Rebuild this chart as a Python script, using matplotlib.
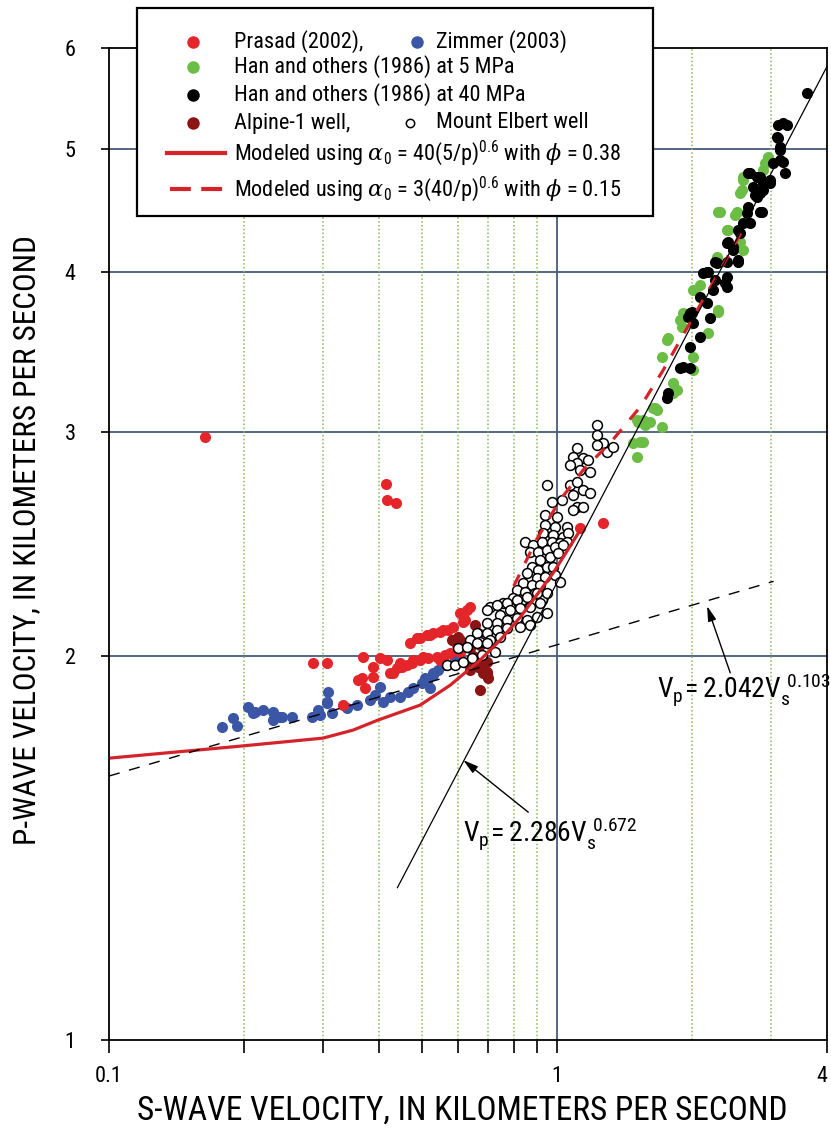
import numpy as np
import matplotlib
matplotlib.use("Agg")
import matplotlib.pyplot as plt
from matplotlib import font_manager
from matplotlib.lines import Line2D
from matplotlib.patches import Rectangle
from matplotlib.ticker import FixedLocator, FixedFormatter, NullFormatter, NullLocator


def pick_narrow_font():
    fonts = font_manager.fontManager.ttflist
    names = {f.name for f in fonts}
    for fam in ['Liberation Sans Narrow', 'Roboto Condensed', 'DejaVu Sans Condensed',
                'Open Sans Condensed']:
        if fam in names:
            return fam, 'normal'
    for fam in ['Roboto', 'DejaVu Sans', 'Open Sans']:
        if any(f.name == fam and f.stretch in ('condensed', 'semi-condensed', 75, 87)
               for f in fonts):
            return fam, 'condensed'
    return 'Liberation Sans', 'normal'


FONT, STRETCH = pick_narrow_font()
plt.rcParams['font.family'] = [FONT, 'DejaVu Sans']
plt.rcParams['font.stretch'] = STRETCH
plt.rcParams['mathtext.fontset'] = 'custom'
_pat = FONT + (':condensed' if STRETCH == 'condensed' else '')
plt.rcParams['mathtext.rm'] = _pat
plt.rcParams['mathtext.it'] = 'DejaVu Serif:italic'
plt.rcParams['mathtext.bf'] = _pat + ':bold'

# ---------------------------------------------------------------- data (km/s)
prasad_vs = [0.164, 0.415, 0.417, 0.437, 0.285, 0.307, 0.369, 0.403, 0.388, 0.367,
             0.373, 0.359, 0.388, 0.333, 0.424, 0.431, 0.440, 0.451, 0.463, 0.475,
             0.477, 0.495, 0.515, 0.540, 0.562, 0.470, 0.487, 0.495, 0.513, 0.521,
             0.529, 0.548, 0.557, 0.571, 0.607, 0.630, 0.617, 0.586, 0.639, 0.623,
             0.586, 0.598, 0.417, 0.446, 0.502, 0.577, 0.607, 0.548, 1.126, 1.267]
prasad_vp = [2.97, 2.73, 2.65, 2.64, 1.975, 1.975, 1.997, 1.993, 1.961, 1.924,
             1.888, 1.917, 1.927, 1.831, 1.941, 1.941, 1.958, 1.961, 1.968, 1.975,
             1.986, 1.986, 1.993, 1.997, 2.004, 2.048, 2.067, 2.067, 2.078, 2.078,
             2.085, 2.089, 2.097, 2.097, 2.162, 2.175, 2.127, 2.059, 2.186, 2.135,
             2.108, 2.041, 1.986, 1.975, 1.997, 2.012, 2.015, 1.986, 2.521, 2.544]

zimmer_vs = [0.179, 0.189, 0.193, 0.204, 0.210, 0.212, 0.221, 0.232, 0.232, 0.241,
             0.243, 0.256, 0.284, 0.293, 0.296, 0.307, 0.307, 0.308, 0.315, 0.340,
             0.358, 0.383, 0.393, 0.403, 0.409, 0.424, 0.447, 0.465, 0.477, 0.500,
             0.507, 0.513, 0.520, 0.529, 0.529, 0.542, 0.562, 0.592]
zimmer_vp = [1.761, 1.789, 1.764, 1.825, 1.805, 1.808, 1.815, 1.808, 1.782, 1.792,
             1.792, 1.792, 1.792, 1.815, 1.799, 1.838, 1.841, 1.875, 1.805, 1.821,
             1.831, 1.848, 1.865, 1.892, 1.841, 1.858, 1.858, 1.875, 1.888, 1.905,
             1.922, 1.909, 1.890, 1.933, 1.940, 1.951, 1.968, 1.986]

han5_vs = [1.478, 1.509, 1.532, 1.556, 1.509, 1.516, 1.556, 1.572, 1.613, 1.716,
           1.638, 1.655, 1.672, 1.815, 1.853, 1.815, 1.716, 1.760, 1.769, 1.882,
           1.901, 2.012, 2.012, 2.288, 2.173, 2.012, 2.032, 2.085, 2.162, 1.911,
           2.288, 2.276, 2.601, 2.562, 2.396, 2.408, 2.288, 2.312, 2.496, 2.522,
           2.562, 2.588, 2.601, 2.601, 2.884, 2.913, 2.958, 2.958]
han5_vp = [2.939, 2.866, 2.944, 2.944, 3.064, 3.053, 3.064, 3.037, 3.053, 3.026,
           3.131, 3.131, 3.120, 3.275, 3.234, 3.217, 3.433, 3.540, 3.552, 3.670,
           3.624, 3.433, 3.353, 3.737, 3.585, 3.874, 3.874, 3.910, 3.784, 3.717,
           3.724, 4.113, 4.165, 4.226, 4.318, 4.318, 4.460, 4.460, 4.436, 4.460,
           4.616, 4.642, 4.726, 4.752, 4.812, 4.873, 4.927, 4.918]

han40_vs = [1.760, 1.769, 1.882, 1.911, 1.981, 1.981, 2.085, 1.960, 2.001, 1.981,
            2.012, 2.085, 2.196, 2.162, 2.230, 2.118, 2.162, 2.173, 2.253, 2.276,
            2.253, 2.371, 2.396, 2.396, 2.396, 2.396, 2.408, 2.471, 2.471, 2.535,
            2.535, 2.562, 2.535, 2.601, 2.697, 2.669, 2.655, 2.869, 2.839, 2.796,
            2.767, 2.839, 2.884, 2.739, 2.884, 2.989, 2.989, 2.697, 2.669, 2.796,
            2.839, 3.228, 3.035, 3.195, 3.146, 3.146, 3.146, 3.114, 3.097, 3.114,
            3.262, 3.195, 3.614]
han40_vp = [3.188, 3.217, 3.365, 3.371, 3.365, 3.495, 3.559, 3.690, 3.724, 3.717,
            3.651, 3.825, 3.684, 3.784, 3.874, 3.995, 4.003, 4.003, 4.075, 4.068,
            3.946, 3.924, 3.967, 3.896, 4.075, 4.218, 4.226, 4.165, 4.188, 4.075,
            4.091, 4.295, 4.318, 4.373, 4.373, 4.501, 4.452, 4.460, 4.460, 4.583,
            4.599, 4.616, 4.642, 4.666, 4.700, 4.700, 4.726, 4.786, 4.786, 4.752,
            4.752, 4.786, 4.873, 4.882, 4.900, 4.989, 5.017, 5.100, 5.109, 5.221,
            5.221, 5.240, 5.530]

alpine_vs = [0.656, 0.666, 0.673, 0.698, 0.684, 0.701, 0.673, 0.639, 0.649, 0.698,
             0.601, 0.583, 0.639, 0.673, 0.698, 0.684, 0.630, 0.666, 0.607, 0.649]
alpine_vp = [2.116, 2.085, 2.041, 1.980, 1.941, 1.924, 1.882, 1.951, 1.975, 1.944,
             2.070, 2.059, 2.030, 1.961, 1.933, 1.986, 1.975, 1.961, 2.059, 2.000]

elbert_vs = [1.228, 1.228, 1.267, 1.293, 1.228, 1.334, 1.108, 1.086, 1.143, 1.173,
             1.108, 1.069, 1.126, 1.185, 0.950, 1.069, 1.108, 1.143, 1.086, 1.185,
             0.975, 1.026, 1.108, 1.143, 1.086, 0.940, 1.000, 0.940, 0.990, 1.053,
             0.930, 0.980, 1.031, 1.058, 0.848, 0.884, 0.926, 0.975, 1.016, 1.053,
             0.870, 0.907, 0.950, 0.990, 1.031, 0.916, 0.965, 1.005, 0.880, 0.907,
             0.950, 0.980, 0.857, 0.902, 0.940, 0.990, 0.839, 0.880, 0.916, 1.016,
             0.814, 0.848, 0.893, 0.798, 0.835, 0.880, 0.926, 0.758, 0.709, 0.785,
             0.698, 0.735, 0.773, 0.814, 0.857, 0.902, 0.950, 0.746, 0.785, 0.827,
             0.870, 0.916, 0.950, 0.698, 0.735, 0.773, 0.814, 0.857, 0.902, 0.663,
             0.698, 0.735, 0.773, 0.827, 0.870, 0.639, 0.673, 0.709, 0.746, 0.601,
             0.630, 0.663, 0.698, 0.568, 0.592, 0.617, 0.646, 0.680, 0.727]
elbert_vp = [3.037, 2.982, 2.939, 2.892, 2.929, 2.918, 2.913, 2.866, 2.861, 2.850,
             2.835, 2.825, 2.800, 2.790, 2.725, 2.725, 2.740, 2.701, 2.676, 2.686,
             2.642, 2.652, 2.618, 2.618, 2.604, 2.581, 2.572, 2.535, 2.526, 2.526,
             2.498, 2.489, 2.480, 2.498, 2.458, 2.445, 2.458, 2.458, 2.454, 2.458,
             2.414, 2.414, 2.423, 2.436, 2.445, 2.380, 2.393, 2.410, 2.350, 2.337,
             2.350, 2.350, 2.325, 2.303, 2.307, 2.316, 2.282, 2.275, 2.275, 2.286,
             2.254, 2.246, 2.242, 2.222, 2.214, 2.206, 2.214, 2.202, 2.186, 2.186,
             2.175, 2.194, 2.202, 2.214, 2.226, 2.242, 2.242, 2.154, 2.175, 2.182,
             2.186, 2.202, 2.162, 2.124, 2.124, 2.135, 2.143, 2.135, 2.146, 2.085,
             2.085, 2.097, 2.104, 2.108, 2.116, 2.059, 2.052, 2.059, 2.070, 2.030,
             2.033, 2.048, 2.048, 1.968, 1.968, 1.980, 1.993, 2.004, 2.015]

# modeled velocities
model38_vs = [0.1005, 0.199, 0.300, 0.350, 0.398, 0.4945, 0.577, 0.673, 0.746, 0.827, 0.980, 1.126]
model38_vp = [1.664, 1.701, 1.725, 1.750, 1.782, 1.831, 1.898, 1.986, 2.059, 2.146, 2.325, 2.512]
model15_vs = [0.800, 0.900, 1.015, 1.143, 1.313, 1.532, 1.724, 2.085, 2.312, 2.630]
model15_vp = [2.270, 2.470, 2.652, 2.800, 2.940, 3.137, 3.353, 3.772, 4.018, 4.360]

# power-law fits Vp = a * Vs^b
fast_coef, fast_exp = 2.286, 0.672
slow_coef, slow_exp = 2.042, 0.103
fast_vs_range = [0.44, 4.0]
slow_vs_range = [0.1, 3.04]

x_ticks = [0.1, 1, 4]
x_ticklabels = ['0.1', '1', '4']
x_minor = [0.2, 0.3, 0.4, 0.5, 0.6, 0.7, 0.8, 0.9]
y_ticks = [1, 2, 3, 4, 5, 6]
y_ticklabels = ['1', '2', '3', '4', '5', '6']
h_grid = [2, 3, 4, 5]
v_grid_dotted = [0.2, 0.3, 0.4, 0.5, 0.6, 0.7, 0.8, 0.9, 2, 3]

# ---------------------------------------------------------------- colours
RED = '#e4262b'
BLUE = '#3a56a5'
GREEN = '#6cbd45'
DARKRED = '#8c1414'
MODEL_RED = '#d4242a'
GRID_BLUE = '#465c78'
GRID_GREEN = '#86b85e'

W, H = 831, 1130
fig = plt.figure(figsize=(W / 100, H / 100), dpi=100)
fig.patch.set_facecolor('white')


def fx(px):
    return px / W


def fy(py):
    return 1 - py / H


ax = fig.add_axes([fx(109), fy(1040), (827 - 109) / W, (1040 - 48) / H])
ax.set_xscale('log')
ax.set_yscale('log')
ax.set_xlim(0.1, 4)
ax.set_ylim(1, 6)

for v in h_grid:
    ax.axhline(v, color=GRID_BLUE, lw=1.3, zorder=1)
ax.axvline(1, color=GRID_BLUE, lw=1.3, zorder=1)
for v in v_grid_dotted:
    ax.axvline(v, color=GRID_GREEN, lw=1.1, ls=(0, (1, 1.5)), zorder=1)

# measured data
ms = 64
ax.scatter(zimmer_vs, zimmer_vp, s=ms, color=BLUE, lw=0, zorder=3)
ax.scatter(prasad_vs, prasad_vp, s=ms, color=RED, lw=0, zorder=3)
ax.scatter(han5_vs, han5_vp, s=ms, color=GREEN, lw=0, zorder=3)
ax.scatter(han40_vs, han40_vp, s=ms, color='black', lw=0, zorder=3.2)
ax.scatter(alpine_vs, alpine_vp, s=ms, color=DARKRED, lw=0, zorder=3.3)
ax.scatter(elbert_vs, elbert_vp, s=50, facecolor='white', edgecolor='black', lw=1.1, zorder=3.4)

# models
ax.plot(model38_vs, model38_vp, color=MODEL_RED, lw=2.3, solid_capstyle='butt', zorder=5)
ax.plot(model15_vs, model15_vp, color=MODEL_RED, lw=2.3, ls=(0, (4, 4)), zorder=5)

# power-law fits
fv = np.array(fast_vs_range)
sv = np.array(slow_vs_range)
ax.plot(fv, fast_coef * fv ** fast_exp, color='black', lw=0.9, zorder=6)
ax.plot(sv, slow_coef * sv ** slow_exp, color='black', lw=1.0, ls=(0, (8, 7)), zorder=6)

arrow = dict(arrowstyle='-|>,head_length=0.9,head_width=0.25', color='black',
             lw=1.0, shrinkA=0, shrinkB=0)
ax.annotate('', xy=(2.16, 2.19), xytext=(2.433, 1.941), arrowprops=arrow, zorder=7)
ax.annotate('', xy=(0.617, 1.658), xytext=(0.862, 1.509), arrowprops=arrow, zorder=7)
ax.text(1.672, 1.882, r'$\mathregular{V_p\!= 2.042V_s^{\ 0.103}}$', fontsize=20,
        ha='left', va='center', zorder=7)
ax.text(0.617, 1.453, r'$\mathregular{V_p\!= 2.286V_s^{\ 0.672}}$', fontsize=20,
        ha='left', va='center', zorder=7)

# axes styling
for s in ax.spines.values():
    s.set_linewidth(1.3)
ax.xaxis.set_major_locator(FixedLocator(x_ticks))
ax.xaxis.set_major_formatter(FixedFormatter(x_ticklabels))
ax.xaxis.set_minor_locator(FixedLocator(x_minor))
ax.xaxis.set_minor_formatter(NullFormatter())
ax.yaxis.set_major_locator(FixedLocator(y_ticks))
ax.yaxis.set_major_formatter(FixedFormatter(y_ticklabels))
ax.yaxis.set_minor_locator(NullLocator())
ax.tick_params(axis='x', which='both', direction='out', length=9, width=1.2,
               labelsize=16, pad=10)
ax.tick_params(axis='y', which='both', direction='out', length=6, width=1.2,
               labelsize=16, pad=18)
ax.get_xticklabels()[-1].set_horizontalalignment('right')

fig.text(fx(462), fy(1111), 'S-WAVE VELOCITY, IN KILOMETERS PER SECOND',
         fontsize=24, ha='center', va='center')
fig.text(fx(27), fy(540), 'P-WAVE VELOCITY, IN KILOMETERS PER SECOND',
         fontsize=22.5, ha='center', va='center', rotation=90)

# legend box
fig.add_artist(Rectangle((fx(137), fy(216)), (653 - 137) / W, (216 - 8) / H,
                         transform=fig.transFigure, facecolor='white',
                         edgecolor='black', lw=1.6, zorder=10))


def leg_marker(px, py, **kw):
    fig.add_artist(Line2D([fx(px)], [fy(py)], transform=fig.transFigure,
                          marker='o', ls='none', zorder=11, **kw))


def leg_text(px, py, s):
    fig.text(fx(px), fy(py), s, fontsize=16, ha='left', va='center', zorder=11)


leg_marker(193, 42, ms=9, color=RED, mec='none')
leg_text(234, 42, 'Prasad (2002),')
leg_marker(417, 42, ms=9, color=BLUE, mec='none')
leg_text(436, 42, 'Zimmer (2003)')
leg_marker(193, 67, ms=9, color=GREEN, mec='none')
leg_text(234, 67, 'Han and others (1986) at 5 MPa')
leg_marker(193, 95, ms=9, color='black', mec='none')
leg_text(234, 95, 'Han and others (1986) at 40 MPa')
leg_marker(193, 123, ms=9, color=DARKRED, mec='none')
leg_text(234, 123, 'Alpine-1 well,')
leg_marker(410, 123, ms=6, mfc='white', mec='black', mew=1.1)
leg_text(436, 123, 'Mount Elbert well')
fig.add_artist(Line2D([fx(167), fx(225)], [fy(153), fy(153)], transform=fig.transFigure,
                      color=MODEL_RED, lw=3, zorder=11))
leg_text(234, 153, r'Modeled using $\alpha_\mathregular{0}$ = 40(5/p)$^\mathregular{0.6}$ with $\phi$ = 0.38')
fig.add_artist(Line2D([fx(170), fx(225)], [fy(189), fy(189)], transform=fig.transFigure,
                      color=MODEL_RED, lw=3, ls=(0, (5, 2.5)), zorder=11))
leg_text(234, 189, r'Modeled using $\alpha_\mathregular{0}$ = 3(40/p)$^\mathregular{0.6}$ with $\phi$ = 0.15')

fig.savefig('out.png', dpi=100, facecolor='white')
